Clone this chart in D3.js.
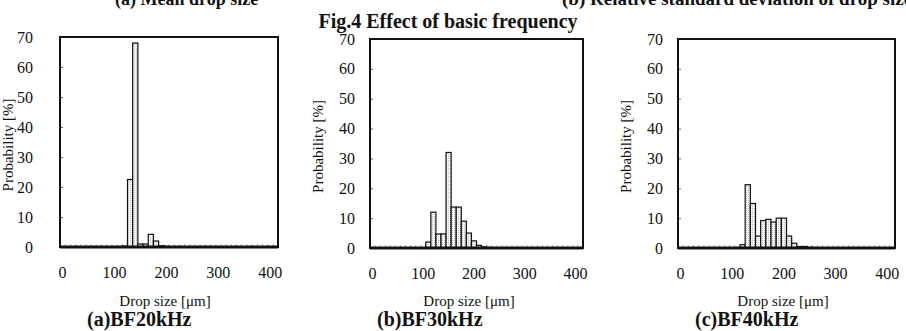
<!DOCTYPE html>
<html>
<head>
<meta charset="utf-8">
<script src="https://cdn.jsdelivr.net/npm/d3@7"></script>
<style>
  html, body { margin: 0; padding: 0; background: #fff; }
  svg { display: block; }
  text { font-family: "Liberation Serif", "Times New Roman", serif; fill: #111; }
</style>
</head>
<body>
<svg id="chart" width="906" height="331"></svg>
<script>
// Drop-size bins: 0, 10, ..., 410 µm
const bins = d3.range(0, 420, 10);
const xTickValues = [0, 100, 200, 300, 400];
const yTickValues = [0, 10, 20, 30, 40, 50, 60, 70];

function fill(pairs) {
  const m = new Map(pairs);
  return bins.map(b => m.get(b) || 0);
}

// Probability [%] per bin for each basic frequency
const bf20 = fill([[120, 0.3], [130, 22.5], [140, 68], [150, 1], [160, 1], [170, 4.2], [180, 2], [190, 0.4], [200, 0.2]]);
const bf30 = fill([[110, 2], [120, 12], [130, 4.7], [140, 4.7], [150, 32], [160, 13.7], [170, 13.7], [180, 9], [190, 5], [200, 2.4], [210, 0.9], [220, 0.4], [230, 0.2]]);
const bf40 = fill([[120, 1.1], [130, 21.2], [140, 14.9], [150, 4], [160, 9.2], [170, 9.6], [180, 8.7], [190, 10], [200, 10], [210, 4], [220, 1.6], [230, 0.5], [240, 0.5], [250, 0.2]]);

const captions = ["(a)BF20kHz", "(b)BF30kHz", "(c)BF40kHz"];

const panels = [
  { values: bf20, left: 60, top: 37, width: 218, height: 210, yLabelGap: 24, yTitleX: 13, xTitleX: 165, capX: 87 },
  { values: bf30, left: 370, top: 39, width: 213, height: 209, yLabelGap: 12, yTitleX: 323, xTitleX: 469, capX: 377 },
  { values: bf40, left: 678, top: 39, width: 217, height: 209, yLabelGap: 12, yTitleX: 631, xTitleX: 783, capX: 695 }
];

const svg = d3.select("#chart");

// Stippled fill for the bars
const defs = svg.append("defs");
const pat = defs.append("pattern")
  .attr("id", "stipple").attr("patternUnits", "userSpaceOnUse")
  .attr("width", 2).attr("height", 2);
pat.append("rect").attr("width", 2).attr("height", 2).attr("fill", "#f5f5f5");
pat.append("rect").attr("width", 1).attr("height", 1).attr("fill", "#c4c4c4");

// Headings of the figure above, running off the top edge
svg.append("text").attr("x", 115).attr("y", 5)
  .attr("font-weight", "bold").attr("font-size", 18).text("(a) Mean drop size");
svg.append("text").attr("x", 562).attr("y", 5)
  .attr("font-weight", "bold").attr("font-size", 19).text("(b) Relative standard deviation of drop size");

svg.append("text").attr("x", 448).attr("y", 28).attr("text-anchor", "middle")
  .attr("font-weight", "bold").attr("font-size", 20).text("Fig.4 Effect of basic frequency");

panels.forEach((p, k) => {
  const g = svg.append("g");
  const bottom = p.top + p.height;
  const x = d3.scaleBand().domain(bins).range([p.left, p.left + p.width]).padding(0);
  const y = d3.scaleLinear().domain([0, 70]).range([bottom, p.top]);

  // Small category ticks along the baseline
  g.append("g").selectAll("line").data(bins.slice(1)).join("line")
    .attr("x1", d => x(d)).attr("x2", d => x(d))
    .attr("y1", bottom).attr("y2", bottom - 3)
    .attr("stroke", "#9a9a9a").attr("stroke-width", 0.8);

  // Bars
  g.append("g").selectAll("rect")
    .data(bins.map((b, i) => ({ b, v: p.values[i] })).filter(d => d.v > 0))
    .join("rect")
    .attr("x", d => x(d.b))
    .attr("width", x.bandwidth())
    .attr("y", d => y(d.v))
    .attr("height", d => bottom - y(d.v))
    .attr("fill", "url(#stipple)")
    .attr("stroke", "#111").attr("stroke-width", 1.2);

  // Inner y ticks
  const inner = g.append("g").attr("transform", `translate(${p.left},0)`)
    .call(d3.axisRight(y).tickValues([10, 20, 30, 40, 50, 60]).tickSize(3).tickFormat(""));
  inner.select(".domain").remove();
  inner.selectAll("line").attr("stroke", "#666");

  // Frame
  g.append("rect").attr("x", p.left).attr("y", p.top)
    .attr("width", p.width).attr("height", p.height)
    .attr("fill", "none").attr("stroke", "#111").attr("stroke-width", 2);
  g.append("line").attr("x1", p.left).attr("x2", p.left + p.width)
    .attr("y1", bottom).attr("y2", bottom).attr("stroke", "#111").attr("stroke-width", 3);

  // Y axis labels
  const ya = g.append("g").attr("transform", `translate(${p.left - p.yLabelGap},0)`)
    .call(d3.axisLeft(y).tickValues(yTickValues).tickSize(0).tickFormat(d3.format("d")));
  ya.select(".domain").remove();
  ya.selectAll("text").attr("font-size", 16).attr("font-family", "Liberation Serif").attr("fill", "#111");

  // X axis labels
  const xa = g.append("g").attr("transform", `translate(0,${bottom + 17})`)
    .call(d3.axisBottom(x).tickValues(xTickValues).tickSize(0));
  xa.select(".domain").remove();
  xa.selectAll("text").attr("font-size", 16).attr("font-family", "Liberation Serif").attr("fill", "#111");

  g.append("text").attr("x", p.xTitleX).attr("y", 306).attr("text-anchor", "middle")
    .attr("font-size", 15).text("Drop size [\u03bcm]");
  g.append("text").attr("x", p.capX).attr("y", 326)
    .attr("font-weight", "bold").attr("font-size", 20).text(captions[k]);

  g.append("text")
    .attr("transform", `translate(${p.yTitleX},${(p.top + bottom) / 2 + 3}) rotate(-90)`)
    .attr("text-anchor", "middle").attr("font-size", 15).text("Probability [%]");
});
</script>
</body>
</html>
